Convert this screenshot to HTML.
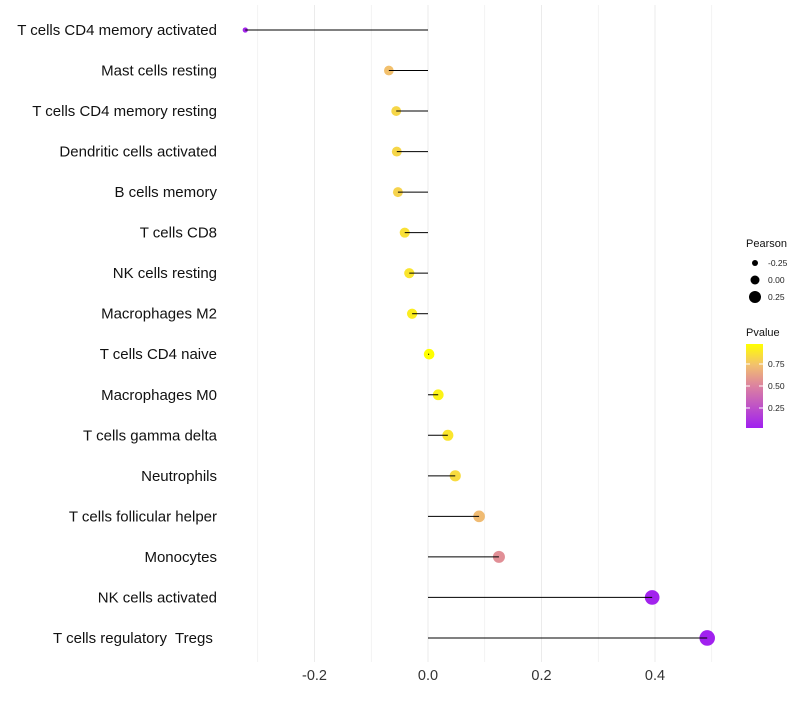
<!DOCTYPE html>
<html><head><meta charset="utf-8"><style>
body{margin:0;background:#fff;font-family:"Liberation Sans",sans-serif}
text{white-space:pre}
</style></head><body>
<svg id="c" width="800" height="700" xmlns="http://www.w3.org/2000/svg"></svg>
<script>
const categories=["T cells CD4 memory activated","Mast cells resting","T cells CD4 memory resting","Dendritic cells activated","B cells memory","T cells CD8","NK cells resting","Macrophages M2","T cells CD4 naive","Macrophages M0","T cells gamma delta","Neutrophils","T cells follicular helper","Monocytes","NK cells activated","T cells regulatory  Tregs "];
const pearson=[-0.322,-0.069,-0.056,-0.055,-0.053,-0.041,-0.033,-0.028,0.002,0.018,0.035,0.048,0.09,0.125,0.395,0.492];
const pvalue=[0.05,0.74,0.82,0.82,0.81,0.86,0.88,0.91,0.99,0.93,0.88,0.84,0.72,0.55,0.04,0.03];
const xTicks=[-0.2,0,0.2,0.4];
const xTickLabels=["-0.2","0.0","0.2","0.4"];
const sizeLegend=[-0.25,0,0.25];
const pLegend=[0.25,0.5,0.75];

const svg=document.getElementById('c');const NS="http://www.w3.org/2000/svg";
function mk(t,a,name,p){const e=document.createElementNS(NS,t);for(const k in a)e.setAttribute(k,a[k]);


(p||svg).appendChild(e);return e;}
const X=v=>428+v*567.5;
const Y=i=>30+i*40.53;
const R=v=>Math.sqrt(Math.max(3,28+65.6*v));
const RL=v=>4.5+v*6;
function col(p){const t=Math.max(0,Math.min(1,(p-0.023)/(0.977-0.023)));
const pos=[0,0.5,0.75,1];const stops=[[160,32,240],[220,130,160],[242,192,110],[255,255,0]];
let k=0;while(k<2&&t>pos[k+1])k++;const a=stops[k],b=stops[k+1],f=(t-pos[k])/(pos[k+1]-pos[k]);
return `rgb(${a.map((c,i)=>Math.round(c+(b[i]-c)*f)).join(',')})`;}
for(let v=-0.3;v<=0.51;v+=0.1){const major=xTicks.some(t=>Math.abs(t-v)<1e-6);
mk('line',{x1:X(v),x2:X(v),y1:5,y2:662,stroke:'#ebebeb','stroke-width':major?1:0.6},'x-gridline');}
xTicks.forEach((v,i)=>{const t=mk('text',{x:X(v),y:680,'text-anchor':'middle','font-size':14.5,fill:'#333'},'x-tick-label');t.textContent=xTickLabels[i];});
categories.forEach((c,i)=>{
const t=mk('text',{x:217,y:Y(i)+5,'text-anchor':'end','font-size':15,fill:'#111'},'y-tick-label');t.textContent=c;
mk('circle',{cx:X(pearson[i]),cy:Y(i),r:R(pearson[i]),fill:col(pvalue[i])},'lollipop-point');
mk('line',{x1:X(0),x2:X(pearson[i]),y1:Y(i),y2:Y(i),stroke:'#000','stroke-width':1},'lollipop-stem');
});
let t=mk('text',{x:746,y:247,'font-size':11,fill:'#111'},'size-legend-title');t.textContent='Pearson';
sizeLegend.forEach((v,i)=>{const y=263+i*17;mk('circle',{cx:755,cy:y,r:RL(v),fill:'#000'},'size-legend-dot');
const l=mk('text',{x:768,y:y+3,'font-size':8.5,fill:'#222'},'size-legend-label');l.textContent=v.toFixed(2);});
t=mk('text',{x:746,y:336,'font-size':11,fill:'#111'},'color-legend-title');t.textContent='Pvalue';
const defs=mk('defs',{},'defs');const g=mk('linearGradient',{id:'pg',x1:0,y1:1,x2:0,y2:0},'gradient',defs);
[0,0.25,0.5,0.625,0.75,0.875,1].forEach(o=>mk('stop',{offset:o,'stop-color':col(0.023+o*0.954)},'gradient-stop',g));
mk('rect',{x:746,y:344,width:17,height:84,fill:'url(#pg)'},'color-bar');
pLegend.forEach(v=>{const y=428-(v-0.023)/0.954*84;
mk('line',{x1:746,x2:750,y1:y,y2:y,stroke:'#fff'},'color-tick');mk('line',{x1:759,x2:763,y1:y,y2:y,stroke:'#fff'},'color-tick');
const l=mk('text',{x:768,y:y+3,'font-size':8.5,fill:'#222'},'color-legend-label');l.textContent=v.toFixed(2);});
</script>
</body></html>
